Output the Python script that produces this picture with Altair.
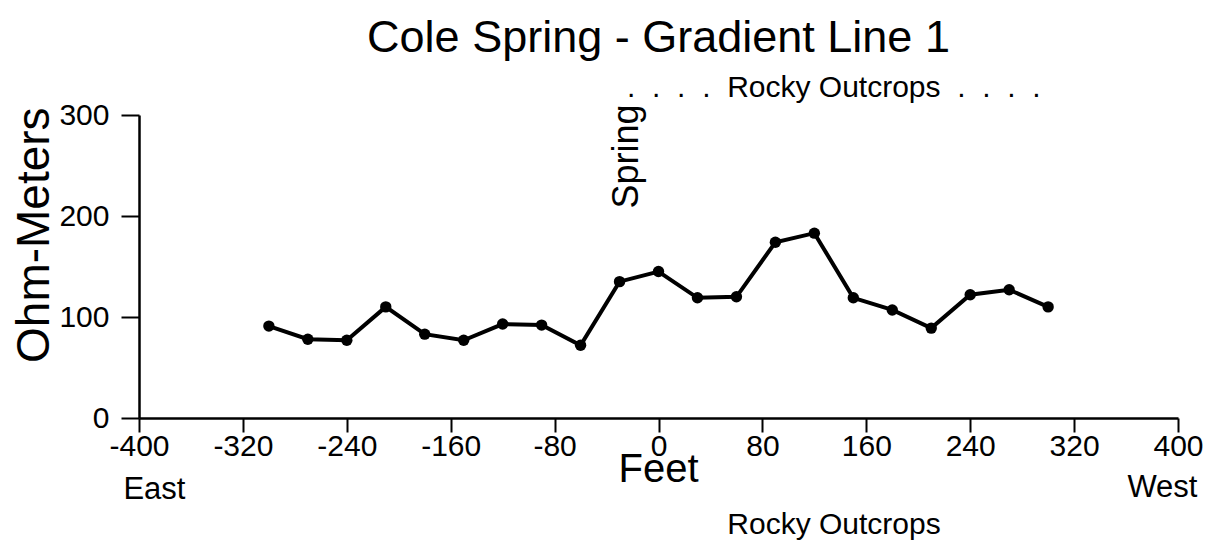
import altair as alt
import pandas as pd

# ---- data ----
feet = [-300, -270, -240, -210, -180, -150, -120, -90, -60, -30, 0,
        30, 60, 90, 120, 150, 180, 210, 240, 270, 300]
ohm_meters = [91, 78, 77, 110, 83, 77, 93, 92, 72, 135, 145,
              119, 120, 174, 183, 119, 107, 89, 122, 127, 110]
x_ticks = [-400, -320, -240, -160, -80, 0, 80, 160, 240, 320, 400]
y_ticks = [0, 100, 200, 300]

chart_title = "Cole Spring - Gradient Line 1"
y_title = "Ohm-Meters"
x_title = "Feet"
NB = "\u00a0"
dots = (("." + NB * 2) * 4)
top_note = dots + "Rocky Outcrops" + NB * 2 + (NB * 2).join(["."] * 4)
bottom_note = "Rocky Outcrops"
spring_note = "Spring"
east_note = "East"
west_note = "West"

FONT = "Liberation Sans"

df = pd.DataFrame({"feet": feet, "ohm": ohm_meters})

x_scale = alt.Scale(domain=[-400, 400], nice=False, zero=False)
y_scale = alt.Scale(domain=[0, 300], nice=False)
x_axis = alt.Axis(values=x_ticks, title=None, labelPadding=-1,
                  tickSize=14, labelFlush=False,
                  labelExpr="'' + datum.value")
y_axis = alt.Axis(values=y_ticks, title=None, labelPadding=12, tickSize=18,
                  labelExpr="'' + datum.value")

line = alt.Chart(df).mark_line(color="black", strokeWidth=4).encode(
    x=alt.X("feet:Q", scale=x_scale, axis=x_axis),
    y=alt.Y("ohm:Q", scale=y_scale, axis=y_axis),
)
points = alt.Chart(df).mark_point(filled=True, color="black", opacity=1, size=130).encode(
    x=alt.X("feet:Q", scale=x_scale, axis=x_axis),
    y=alt.Y("ohm:Q", scale=y_scale, axis=y_axis),
)


def note(text, x, y, size, align="center", angle=0):
    d = pd.DataFrame({"feet": [x], "ohm": [y], "t": [text]})
    kw = dict(font=FONT, fontSize=size, color="black", align=align, baseline="middle")
    if angle:
        kw["angle"] = angle
    return alt.Chart(d).mark_text(**kw).encode(
        x=alt.X("feet:Q", scale=x_scale, axis=x_axis),
        y=alt.Y("ohm:Q", scale=y_scale, axis=y_axis),
        text="t:N",
    )


layers = [
    line,
    points,
    note(chart_title, 0, 376, 45),
    note(top_note, 135, 327, 30),
    note(spring_note, -24, 259, 36, angle=270),
    note(y_title, -480, 181, 46, angle=270),
    note(x_title, 0, -51, 40),
    note(east_note, -412, -71, 31, align="left"),
    note(west_note, 415, -69, 31, align="right"),
    note(bottom_note, 53, -106, 30, align="left"),
]

chart = alt.layer(*layers).properties(
    width=1039,
    height=303,
    autosize=alt.AutoSizeParams(type="none"),
    padding={"left": 131, "top": 107, "right": 28, "bottom": 130},
).configure_view(stroke=None).configure_axis(
    labelFont=FONT, labelFontSize=30, labelColor="black",
    domainColor="black", domainWidth=2.5, tickColor="black", tickWidth=2,
    grid=False,
)

chart.save("out.html", embed_options={"renderer": "svg", "actions": False})
